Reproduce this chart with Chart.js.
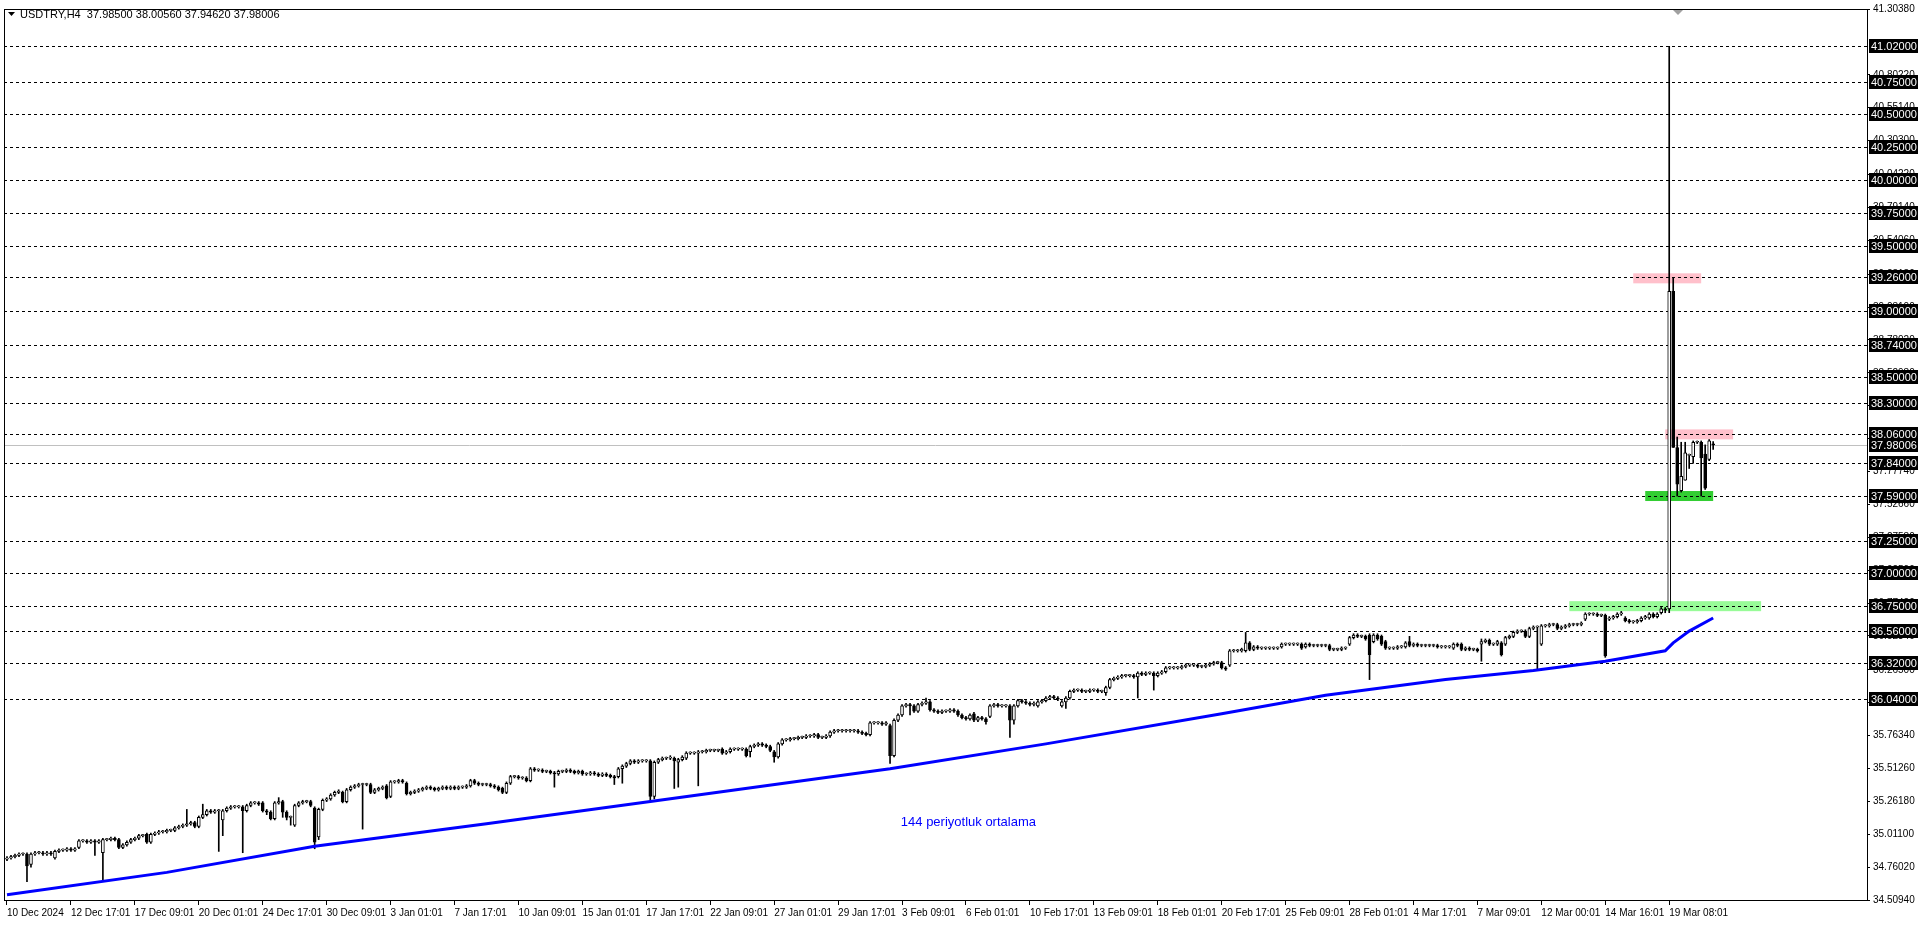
<!DOCTYPE html>
<html>
<head>
<meta charset="utf-8">
<script src="https://cdn.jsdelivr.net/npm/chart.js@4.4.1/dist/chart.umd.min.js"></script>
<style>
  html, body { margin: 0; padding: 0; background: #fff; }
  #wrap { width: 1920px; height: 927px; position: relative; }
</style>
</head>
<body>
<div id="wrap"><canvas id="chart"></canvas></div>
<script>
// USDTRY H4 candles, one per 4h bar
const opens = [
  34.82,34.83,34.84,34.85,34.86,34.86,34.78,34.86,34.87,34.87, 34.86,34.87,34.83,34.88,34.89,34.89,34.90,34.89,34.91,34.96,
  34.96,34.95,34.96,34.95,34.87,34.97,34.97,34.98,34.97,34.91, 34.93,34.95,34.97,34.98,35.00,35.01,34.95,35.01,35.02,35.03,
  35.03,35.04,35.04,35.06,35.07,35.08,35.09,35.10,35.07,35.14, 35.16,35.19,35.18,35.19,35.12,35.19,35.21,35.22,35.22,35.22,
  35.19,35.23,35.25,35.25,35.25,35.19,35.18,35.13,35.25,35.26, 35.18,35.14,35.08,35.23,35.25,35.26,35.26,35.21,34.99,35.20,
  35.27,35.28,35.31,35.33,35.33,35.26,35.35,35.37,35.38,35.39, 35.39,35.39,35.33,35.35,35.36,35.38,35.30,35.41,35.41,35.42,
  35.40,35.32,35.33,35.34,35.35,35.36,35.37,35.36,35.35,35.36, 35.37,35.36,35.37,35.36,35.37,35.37,35.38,35.42,35.40,35.39,
  35.39,35.39,35.38,35.37,35.36,35.33,35.40,35.45,35.45,35.44, 35.44,35.42,35.51,35.50,35.50,35.49,35.49,35.48,35.47,35.49,
  35.49,35.50,35.49,35.48,35.49,35.47,35.47,35.48,35.47,35.46, 35.47,35.46,35.45,35.45,35.51,35.53,35.55,35.57,35.56,35.57,
  35.57,35.57,35.30,35.56,35.58,35.59,35.59,35.59,35.56,35.58, 35.59,35.63,35.63,35.63,35.64,35.64,35.65,35.65,35.65,35.66,
  35.63,35.64,35.66,35.66,35.66,35.66,35.64,35.68,35.69,35.70, 35.69,35.68,35.64,35.60,35.70,35.73,35.73,35.74,35.74,35.75,
  35.75,35.76,35.76,35.77,35.75,35.75,35.76,35.79,35.80,35.80, 35.80,35.80,35.80,35.80,35.79,35.78,35.77,35.86,35.86,35.86,
  35.85,35.84,35.61,35.88,35.92,35.99,36.00,35.99,35.95,36.00, 36.01,36.02,35.96,35.95,35.94,35.95,35.95,35.96,35.95,35.92,
  35.90,35.89,35.93,35.88,35.90,35.89,35.91,35.99,36.00,35.99, 35.99,35.99,35.88,35.99,36.03,36.02,36.01,36.00,35.99,36.02,
  36.03,36.05,36.06,36.05,35.99,36.02,36.05,36.10,36.11,36.11, 36.10,36.10,36.11,36.11,36.10,36.09,36.13,36.19,36.20,36.21,
  36.22,36.22,36.22,36.21,36.24,36.23,36.24,36.24,36.22,36.24, 36.25,36.28,36.28,36.28,36.28,36.29,36.30,36.30,36.30,36.29,
  36.29,36.30,36.31,36.32,36.32,36.28,36.30,36.41,36.41,36.41, 36.41,36.47,36.42,36.44,36.43,36.43,36.43,36.43,36.43,36.44,
  36.46,36.46,36.46,36.46,36.46,36.44,36.46,36.45,36.45,36.45, 36.45,36.45,36.42,36.42,36.42,36.43,36.46,36.51,36.53,36.52,
  36.52,36.53,36.48,36.53,36.52,36.48,36.43,36.43,36.43,36.44, 36.44,36.48,36.45,36.46,36.45,36.45,36.45,36.45,36.45,36.44,
  36.44,36.44,36.43,36.46,36.46,36.42,36.43,36.42,36.42,36.46, 36.48,36.49,36.46,36.46,36.47,36.46,36.51,36.52,36.55,36.56,
  36.56,36.52,36.58,36.59,36.46,36.60,36.60,36.61,36.61,36.58, 36.59,36.60,36.61,36.61,36.61,36.65,36.69,36.69,36.69,36.68,
  36.68,36.65,36.66,36.67,36.69,36.66,36.64,36.63,36.63,36.64, 36.66,36.66,36.69,36.67,36.70,36.73,36.73,39.15,37.96,37.63,
  37.71,37.90,37.89,38.00,38.00,37.91,37.87,37.985
];
const highs = [
  34.84,34.85,34.86,34.87,34.87,34.87,34.87,34.88,34.88,34.88, 34.88,34.88,34.89,34.90,34.90,34.91,34.91,34.91,34.97,34.97,
  34.97,34.97,34.97,34.97,34.98,34.98,34.99,34.99,34.98,34.94, 34.96,34.98,34.99,35.01,35.01,35.02,35.02,35.03,35.04,35.04,
  35.05,35.05,35.07,35.08,35.09,35.20,35.11,35.11,35.15,35.24, 35.20,35.20,35.20,35.20,35.20,35.22,35.23,35.23,35.23,35.23,
  35.24,35.26,35.26,35.26,35.26,35.20,35.19,35.26,35.29,35.27, 35.19,35.15,35.24,35.26,35.27,35.27,35.27,35.22,35.21,35.28,
  35.29,35.32,35.34,35.35,35.34,35.36,35.38,35.39,35.40,35.40, 35.40,35.40,35.36,35.37,35.38,35.39,35.42,35.42,35.43,35.43,
  35.41,35.34,35.35,35.36,35.37,35.38,35.38,35.37,35.37,35.38, 35.38,35.38,35.38,35.38,35.38,35.39,35.43,35.43,35.41,35.40,
  35.40,35.40,35.39,35.38,35.37,35.41,35.46,35.46,35.46,35.45, 35.45,35.52,35.52,35.51,35.51,35.50,35.50,35.49,35.50,35.50,
  35.51,35.51,35.50,35.50,35.50,35.48,35.49,35.49,35.48,35.48, 35.48,35.47,35.46,35.52,35.54,35.56,35.58,35.58,35.58,35.58,
  35.58,35.58,35.57,35.59,35.60,35.60,35.61,35.60,35.59,35.61, 35.64,35.64,35.64,35.65,35.65,35.66,35.66,35.66,35.66,35.67,
  35.65,35.67,35.67,35.67,35.67,35.67,35.69,35.70,35.71,35.71, 35.70,35.69,35.65,35.71,35.74,35.74,35.75,35.75,35.76,35.76,
  35.77,35.77,35.78,35.78,35.76,35.77,35.80,35.81,35.81,35.81, 35.81,35.81,35.81,35.81,35.80,35.79,35.87,35.87,35.87,35.87,
  35.87,35.85,35.89,35.93,36.00,36.01,36.01,36.00,36.01,36.02, 36.05,36.03,35.97,35.96,35.96,35.96,35.97,35.97,35.96,35.93,
  35.91,35.93,35.94,35.91,35.91,35.90,36.00,36.01,36.01,36.00, 36.00,36.00,36.00,36.04,36.04,36.03,36.02,36.02,36.03,36.04,
  36.06,36.07,36.07,36.06,36.03,36.06,36.11,36.12,36.12,36.12, 36.11,36.12,36.12,36.12,36.11,36.14,36.20,36.21,36.22,36.23,
  36.23,36.23,36.23,36.25,36.25,36.25,36.25,36.25,36.25,36.26, 36.29,36.29,36.29,36.29,36.30,36.31,36.31,36.31,36.31,36.30,
  36.31,36.32,36.33,36.33,36.33,36.29,36.42,36.42,36.42,36.43, 36.55,36.48,36.45,36.45,36.44,36.44,36.44,36.44,36.44,36.47,
  36.47,36.47,36.47,36.47,36.47,36.47,36.47,36.46,36.46,36.46, 36.46,36.46,36.43,36.43,36.44,36.44,36.52,36.54,36.54,36.53,
  36.53,36.54,36.54,36.54,36.53,36.49,36.44,36.44,36.45,36.45, 36.48,36.52,36.47,36.47,36.46,36.46,36.46,36.46,36.46,36.45,
  36.45,36.45,36.47,36.47,36.47,36.44,36.44,36.43,36.43,36.50, 36.50,36.50,36.47,36.49,36.48,36.52,36.53,36.56,36.57,36.57,
  36.57,36.59,36.60,36.60,36.61,36.61,36.62,36.62,36.62,36.60, 36.61,36.62,36.62,36.62,36.63,36.70,36.70,36.70,36.70,36.69,
  36.69,36.67,36.68,36.70,36.71,36.67,36.65,36.64,36.65,36.67, 36.68,36.70,36.70,36.70,36.74,36.74,41.02,39.25,38.04,38.00,
  38.00,37.91,38.01,38.01,38.01,37.98,38.02,38.006
];
const lows = [
  34.81,34.82,34.83,34.84,34.85,34.65,34.76,34.85,34.86,34.85, 34.85,34.85,34.82,34.87,34.88,34.88,34.88,34.88,34.90,34.95,
  34.94,34.94,34.85,34.94,34.65,34.96,34.96,34.96,34.90,34.90, 34.92,34.94,34.96,34.97,34.99,34.94,34.94,35.00,35.01,35.02,
  35.02,35.03,35.03,35.05,35.06,35.07,35.08,35.06,35.06,35.13, 35.15,35.17,35.17,34.88,35.00,35.18,35.20,35.21,35.21,34.87,
  35.18,35.22,35.24,35.23,35.18,35.16,35.12,35.12,35.24,35.14, 35.12,35.08,35.07,35.22,35.24,35.25,35.22,34.90,34.97,35.19,
  35.26,35.27,35.30,35.32,35.25,35.25,35.34,35.36,35.37,35.05, 35.38,35.32,35.32,35.34,35.35,35.28,35.29,35.40,35.40,35.40,
  35.31,35.31,35.32,35.33,35.34,35.35,35.35,35.34,35.34,35.35, 35.35,35.35,35.35,35.35,35.36,35.36,35.37,35.39,35.38,35.38,
  35.38,35.37,35.36,35.34,35.32,35.32,35.39,35.44,35.43,35.43, 35.41,35.41,35.49,35.49,35.48,35.48,35.47,35.37,35.46,35.48,
  35.48,35.48,35.47,35.47,35.46,35.46,35.46,35.46,35.45,35.45, 35.45,35.44,35.39,35.44,35.40,35.52,35.54,35.55,35.55,35.56,
  35.56,35.27,35.28,35.55,35.57,35.58,35.58,35.36,35.37,35.57, 35.58,35.62,35.62,35.38,35.63,35.63,35.64,35.64,35.64,35.62,
  35.62,35.63,35.65,35.65,35.65,35.60,35.60,35.67,35.68,35.68, 35.67,35.64,35.56,35.59,35.69,35.72,35.72,35.73,35.73,35.74,
  35.74,35.75,35.75,35.74,35.74,35.74,35.75,35.78,35.79,35.79, 35.79,35.79,35.79,35.78,35.77,35.76,35.76,35.85,35.85,35.84,
  35.84,35.55,35.60,35.87,35.91,35.98,35.92,35.94,35.94,35.99, 36.00,35.95,35.94,35.93,35.93,35.94,35.94,35.94,35.91,35.89,
  35.88,35.88,35.87,35.87,35.88,35.85,35.90,35.98,35.98,35.98, 35.98,35.75,35.85,35.98,36.01,36.00,35.99,35.99,35.98,36.01,
  36.02,36.04,36.04,36.03,35.98,35.97,36.04,36.09,36.10,36.09, 36.09,36.09,36.10,36.09,36.09,36.07,36.12,36.18,36.19,36.20,
  36.21,36.21,36.20,36.05,36.22,36.22,36.23,36.11,36.21,36.23, 36.24,36.27,36.27,36.27,36.27,36.28,36.29,36.29,36.28,36.28,
  36.28,36.29,36.30,36.31,36.27,36.26,36.29,36.40,36.40,36.40, 36.40,36.41,36.41,36.42,36.42,36.42,36.42,36.42,36.42,36.43,
  36.45,36.45,36.45,36.45,36.42,36.43,36.44,36.44,36.44,36.44, 36.44,36.41,36.41,36.41,36.41,36.42,36.45,36.50,36.51,36.51,
  36.49,36.19,36.47,36.49,36.45,36.42,36.42,36.42,36.42,36.43, 36.43,36.44,36.44,36.44,36.44,36.44,36.44,36.44,36.43,36.43,
  36.43,36.43,36.42,36.44,36.41,36.41,36.41,36.41,36.40,36.33, 36.47,36.45,36.45,36.45,36.37,36.45,36.50,36.51,36.54,36.55,
  36.51,36.51,36.57,36.26,36.45,36.59,36.59,36.60,36.57,36.57, 36.58,36.59,36.60,36.60,36.60,36.64,36.68,36.68,36.67,36.67,
  36.36,36.64,36.65,36.66,36.68,36.63,36.62,36.62,36.62,36.63, 36.65,36.65,36.66,36.66,36.69,36.70,36.70,37.96,37.59,37.62,
  37.71,37.80,37.84,37.99,37.59,37.64,37.86,37.946
];
const closes = [
  34.83,34.84,34.85,34.86,34.86,34.77,34.86,34.87,34.87,34.86, 34.87,34.86,34.88,34.89,34.89,34.90,34.89,34.90,34.96,34.96,
  34.95,34.96,34.95,34.96,34.97,34.97,34.98,34.97,34.91,34.93, 34.95,34.97,34.98,35.00,35.00,34.95,35.01,35.02,35.03,35.03,
  35.04,35.04,35.06,35.07,35.08,35.09,35.10,35.07,35.14,35.16, 35.19,35.18,35.19,35.19,35.19,35.21,35.22,35.22,35.22,35.19,
  35.23,35.25,35.25,35.24,35.19,35.18,35.13,35.25,35.26,35.18, 35.14,35.14,35.23,35.25,35.26,35.26,35.23,34.95,35.20,35.27,
  35.28,35.31,35.33,35.34,35.26,35.35,35.37,35.38,35.39,35.39, 35.39,35.33,35.35,35.36,35.37,35.29,35.41,35.41,35.42,35.41,
  35.32,35.33,35.34,35.35,35.36,35.37,35.36,35.35,35.36,35.37, 35.36,35.37,35.36,35.37,35.37,35.38,35.42,35.40,35.39,35.39,
  35.39,35.38,35.37,35.35,35.33,35.40,35.45,35.45,35.44,35.44, 35.42,35.51,35.50,35.50,35.49,35.49,35.48,35.47,35.49,35.49,
  35.50,35.49,35.48,35.49,35.47,35.47,35.48,35.47,35.46,35.47, 35.46,35.45,35.44,35.51,35.53,35.55,35.57,35.56,35.57,35.57,
  35.57,35.30,35.56,35.58,35.59,35.59,35.60,35.57,35.58,35.60, 35.63,35.63,35.63,35.64,35.64,35.65,35.65,35.65,35.65,35.63,
  35.64,35.66,35.66,35.66,35.66,35.61,35.68,35.69,35.70,35.69, 35.68,35.65,35.60,35.70,35.73,35.73,35.74,35.74,35.75,35.75,
  35.76,35.76,35.77,35.75,35.75,35.76,35.79,35.80,35.80,35.80, 35.80,35.80,35.80,35.79,35.78,35.77,35.86,35.86,35.86,35.85,
  35.86,35.61,35.88,35.92,35.99,36.00,35.99,35.95,36.00,36.01, 36.02,35.96,35.95,35.94,35.95,35.95,35.96,35.95,35.92,35.90,
  35.89,35.92,35.88,35.90,35.89,35.87,35.99,36.00,35.99,35.99, 35.99,35.88,35.99,36.03,36.02,36.01,36.00,36.01,36.02,36.03,
  36.05,36.06,36.05,36.04,36.02,36.05,36.10,36.11,36.11,36.10, 36.10,36.11,36.11,36.10,36.10,36.13,36.19,36.20,36.21,36.22,
  36.22,36.22,36.21,36.24,36.23,36.24,36.24,36.22,36.24,36.25, 36.28,36.28,36.28,36.28,36.29,36.30,36.30,36.30,36.29,36.29,
  36.30,36.31,36.32,36.32,36.28,36.27,36.41,36.41,36.41,36.42, 36.47,36.42,36.44,36.43,36.43,36.43,36.43,36.43,36.43,36.46,
  36.46,36.46,36.46,36.46,36.43,36.46,36.45,36.45,36.45,36.45, 36.45,36.42,36.42,36.42,36.43,36.43,36.51,36.53,36.52,36.52,
  36.50,36.38,36.53,36.50,36.46,36.43,36.43,36.43,36.44,36.44, 36.47,36.45,36.46,36.45,36.45,36.45,36.45,36.45,36.44,36.44,
  36.44,36.44,36.46,36.45,36.42,36.43,36.42,36.42,36.41,36.48, 36.49,36.46,36.46,36.48,36.38,36.51,36.52,36.55,36.56,36.56,
  36.52,36.58,36.59,36.59,36.60,36.60,36.61,36.61,36.58,36.59, 36.60,36.61,36.61,36.61,36.62,36.69,36.69,36.69,36.68,36.68,
  36.37,36.66,36.67,36.69,36.70,36.64,36.63,36.63,36.64,36.66, 36.67,36.69,36.67,36.69,36.73,36.72,39.15,37.96,37.68,37.74,
  37.92,37.90,38.00,38.00,37.88,37.65,38.01,37.98
];

// 144-period moving average, sampled at bar indices
const maBars = [0, 40, 77, 120, 161, 221, 260, 304, 330, 360, 382, 400, 415, 417, 421, 427];
const maValues = [34.55, 34.72, 34.92, 35.09, 35.26, 35.51, 35.70, 35.93, 36.07, 36.19, 36.26, 36.33, 36.41, 36.47, 36.56, 36.66];

// x-axis labels, one every 16 bars
const timeLabels = ["10 Dec 2024", "12 Dec 17:01", "17 Dec 09:01", "20 Dec 01:01", "24 Dec 17:01", "30 Dec 09:01",
  "3 Jan 01:01", "7 Jan 17:01", "10 Jan 09:01", "15 Jan 01:01", "17 Jan 17:01", "22 Jan 09:01", "27 Jan 01:01",
  "29 Jan 17:01", "3 Feb 09:01", "6 Feb 01:01", "10 Feb 17:01", "13 Feb 09:01", "18 Feb 01:01", "20 Feb 17:01",
  "25 Feb 09:01", "28 Feb 01:01", "4 Mar 17:01", "7 Mar 09:01", "12 Mar 00:01", "14 Mar 16:01", "19 Mar 08:01"];

// price-axis ticks
const priceTicks = [34.5094, 34.7602, 35.0110, 35.2618, 35.5126, 35.7634, 36.0142, 36.2650, 36.5234, 36.7742, 37.0250,
  37.2758, 37.5266, 37.7774, 38.0282, 38.2790, 38.5298, 38.7802, 39.0310, 39.2818, 39.5406, 39.7914, 40.0422,
  40.3030, 40.5514, 40.8022, 41.3038];

// horizontal levels drawn on the chart
const levels = [41.02, 40.75, 40.50, 40.25, 40.00, 39.75, 39.50, 39.26, 39.00, 38.74, 38.50, 38.30, 38.06,
  37.84, 37.59, 37.25, 37.00, 36.75, 36.56, 36.32, 36.04];
const lastPrice = 37.98006;

// coloured zones: [startBar, endBar, price, colour]
const zones = [
  [407, 424, 39.25, '#ffc0cb'],
  [415, 432, 38.06, '#ffc0cb'],
  [410, 427, 37.59, '#32cd32'],
  [391, 439, 36.75, '#98fb98']
];

const wicks = lows.map((l, i) => ({ x: i, y: [l, highs[i]] }));
const bodies = opens.map((o, i) => ({ x: i, y: [o, closes[i]] }));
const maLine = maBars.map((b, i) => ({ x: b, y: maValues[i] }));

const overlay = {
  id: 'overlay',
  beforeDatasetsDraw(chart) {
    const { ctx, chartArea: a, scales: { x, y } } = chart;
    ctx.save();
    zones.forEach(z => {
      const yc = y.getPixelForValue(z[2]);
      ctx.fillStyle = z[3];
      ctx.fillRect(x.getPixelForValue(z[0]), yc - 5, x.getPixelForValue(z[1]) - x.getPixelForValue(z[0]), 10);
    });
    ctx.strokeStyle = '#000';
    ctx.lineWidth = 1;
    ctx.setLineDash([3, 3]);
    levels.forEach(v => {
      const py = Math.round(y.getPixelForValue(v)) + 0.5;
      ctx.beginPath(); ctx.moveTo(a.left, py); ctx.lineTo(a.right, py); ctx.stroke();
    });
    ctx.setLineDash([]);
    ctx.strokeStyle = '#c0c0c0';
    const gy = Math.round(y.getPixelForValue(lastPrice)) + 0.5;
    ctx.beginPath(); ctx.moveTo(a.left, gy); ctx.lineTo(a.right, gy); ctx.stroke();
    ctx.restore();
  },
  afterDraw(chart) {
    const { ctx, chartArea: a, scales: { x, y } } = chart;
    ctx.save();
    ctx.strokeStyle = '#000';
    ctx.lineWidth = 1;
    ctx.strokeRect(a.left + 0.5, a.top + 0.5, a.right - a.left, a.bottom - a.top);
    // level labels on the price axis
    ctx.font = '11px "Liberation Sans"';
    ctx.textBaseline = 'middle';
    levels.concat([lastPrice]).forEach(v => {
      const py = Math.round(y.getPixelForValue(v));
      ctx.fillStyle = '#000';
      ctx.fillRect(a.right + 2, py - 7, 49, 14);
      ctx.fillStyle = '#fff';
      ctx.fillText(v.toFixed(5), a.right + 4, py + 1);
    });
    // header
    ctx.fillStyle = '#000';
    ctx.font = '11px "Liberation Sans"';
    ctx.beginPath(); ctx.moveTo(8, 12); ctx.lineTo(15, 12); ctx.lineTo(11.5, 16); ctx.closePath(); ctx.fill();
    ctx.fillText('USDTRY,H4  37.98500 38.00560 37.94620 37.98006', 20, 15);
    // shift marker
    ctx.fillStyle = '#a0a0a0';
    ctx.beginPath(); ctx.moveTo(1673, a.top + 1); ctx.lineTo(1683, a.top + 1); ctx.lineTo(1678, a.top + 6); ctx.closePath(); ctx.fill();
    // moving average caption
    ctx.fillStyle = '#0000ff';
    ctx.font = '13px "Liberation Sans"';
    ctx.fillText('144 periyotluk ortalama', x.getPixelForValue(223.7), y.getPixelForValue(35.10));
    ctx.restore();
  }
};

new Chart(document.getElementById('chart'), {
  data: {
    datasets: [
      {
        type: 'bar', data: wicks, grouped: false, barThickness: 1,
        backgroundColor: '#000', borderWidth: 0, order: 3
      },
      {
        type: 'bar', data: bodies, grouped: false, barThickness: 3, minBarLength: 1,
        backgroundColor: c => (closes[c.dataIndex] >= opens[c.dataIndex] ? '#fff' : '#000'),
        borderColor: '#000', borderWidth: 1, borderSkipped: false, order: 2
      },
      {
        type: 'line', data: maLine, borderColor: '#0000ff', borderWidth: 3,
        pointRadius: 0, tension: 0, order: 1
      }
    ]
  },
  options: {
    responsive: true,
    maintainAspectRatio: false,
    animation: false,
    layout: { padding: { left: 4, top: 9, right: 0, bottom: 0 } },
    plugins: { legend: { display: false }, tooltip: { enabled: false } },
    scales: {
      x: {
        type: 'linear', min: -0.75, max: 465.5, offset: false,
        afterBuildTicks: s => { s.ticks = timeLabels.map((t, i) => ({ value: i * 16 })); },
        afterFit: s => { s.height = 27; s.paddingLeft = 0; s.paddingRight = 0; },
        ticks: {
          callback: (v, i) => timeLabels[i], align: 'start', autoSkip: false, maxRotation: 0,
          color: '#000', font: { family: 'Liberation Sans', size: 10 }, padding: 2
        },
        grid: { drawOnChartArea: false, tickLength: 5, color: '#000', offset: false },
        border: { color: '#000' }
      },
      y: {
        position: 'right', min: 34.5094, max: 41.3038,
        afterBuildTicks: s => { s.ticks = priceTicks.map(v => ({ value: v })); },
        afterFit: s => { s.width = 53; s.paddingTop = 0; s.paddingBottom = 0; },
        ticks: {
          callback: v => v.toFixed(5), autoSkip: false,
          color: '#000', font: { family: 'Liberation Sans', size: 10 }, padding: 3
        },
        grid: { drawOnChartArea: false, tickLength: 3, color: '#000' },
        border: { color: '#000' }
      }
    }
  },
  plugins: [overlay]
});
</script>
</body>
</html>
